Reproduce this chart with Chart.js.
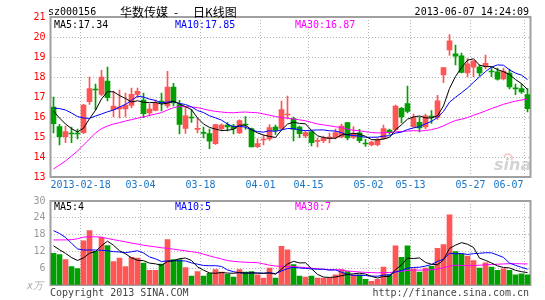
<!DOCTYPE html>
<html>
<head>
<meta charset="utf-8">
<script src="https://cdn.jsdelivr.net/npm/chart.js@4.4.0/dist/chart.umd.min.js"></script>
<style>
body{margin:0;background:#fff;}
#wrap{position:relative;width:545px;height:300px;}
canvas{position:absolute;left:0;}
</style>
</head>
<body>
<div id="wrap">
<canvas id="kline" width="545" height="190" style="top:0"></canvas>
<canvas id="vol" width="545" height="110" style="top:190px"></canvas>
</div>
<script>
// trading days shown
var dates = [
  '2013-02-04','2013-02-05','2013-02-06','2013-02-07','2013-02-08',
  '2013-02-18','2013-02-19','2013-02-20','2013-02-21','2013-02-22',
  '2013-02-25','2013-02-26','2013-02-27','2013-02-28','2013-03-01',
  '2013-03-04','2013-03-05','2013-03-06','2013-03-07','2013-03-08',
  '2013-03-11','2013-03-12','2013-03-13','2013-03-14','2013-03-15',
  '2013-03-18','2013-03-19','2013-03-20','2013-03-21','2013-03-22',
  '2013-03-25','2013-03-26','2013-03-27','2013-03-28','2013-03-29',
  '2013-04-01','2013-04-02','2013-04-03','2013-04-08','2013-04-09',
  '2013-04-10','2013-04-11','2013-04-12','2013-04-15','2013-04-16',
  '2013-04-17','2013-04-18','2013-04-19','2013-04-22','2013-04-23',
  '2013-04-24','2013-04-25','2013-04-26','2013-05-02','2013-05-03',
  '2013-05-06','2013-05-07','2013-05-08','2013-05-09','2013-05-10',
  '2013-05-13','2013-05-14','2013-05-15','2013-05-16','2013-05-17',
  '2013-05-20','2013-05-21','2013-05-22','2013-05-23','2013-05-24',
  '2013-05-27','2013-05-28','2013-05-29','2013-05-30','2013-05-31',
  '2013-06-03','2013-06-04','2013-06-05','2013-06-06','2013-06-07'
];

var opens = [16.5,15.52,15.02,15.18,15.18,15.22,16.77,17.4,17.13,17.8,
  16.37,16.4,16.4,16.58,17.13,16.85,16.2,16.33,16.8,16.55,
  17.5,16.62,15.43,16.0,15.38,15.22,15.17,14.67,15.42,15.6,
  15.55,15.2,15.65,15.42,14.52,14.85,14.9,15.5,15.43,16.1,
  15.92,15.5,15.05,15.26,14.78,14.82,14.92,14.98,15.0,15.72,
  14.98,15.21,14.68,14.6,14.62,14.93,15.35,15.37,16.43,16.67,
  15.52,15.73,15.5,16.04,15.98,18.1,19.35,19.16,19.06,18.21,
  18.49,18.5,18.54,18.27,18.26,17.9,18.19,17.43,17.42,17.12];
var highs = [17.0,15.63,15.55,15.5,15.4,16.63,18.0,17.65,18.33,18.5,
  17.3,17.35,17.2,17.45,17.45,17.2,16.65,16.85,17.2,18.28,
  17.68,16.83,16.5,16.37,15.95,15.5,15.4,15.63,15.66,15.72,
  15.63,15.86,16.02,15.45,14.91,15.1,15.62,15.6,16.8,17.04,
  16.0,15.55,15.3,15.3,14.95,15.05,15.2,15.4,15.65,15.73,
  15.52,15.38,14.88,14.8,14.95,15.6,15.4,16.6,16.48,17.54,
  16.15,16.0,16.15,16.32,17.08,18.47,20.12,19.6,19.2,18.92,
  18.81,18.6,19.1,18.48,18.45,18.45,18.4,17.65,17.65,17.42];
var lows = [15.2,14.6,14.72,14.72,14.9,15.17,16.63,16.35,17.05,16.8,
  16.0,15.95,16.0,16.45,16.97,15.97,16.05,16.3,16.3,16.45,
  16.55,15.15,15.18,15.73,15.2,14.95,14.42,14.63,15.3,15.3,
  15.15,15.17,15.38,14.5,14.47,14.6,14.83,15.13,15.38,15.9,
  14.8,14.97,14.97,14.55,14.5,14.72,14.7,14.9,14.95,14.85,
  14.92,14.72,14.53,14.55,14.55,14.88,15.13,15.3,15.7,16.2,
  15.47,15.25,15.4,15.68,15.88,17.72,19.08,18.6,18.2,18.0,
  18.02,18.05,18.4,18.02,17.84,17.86,17.4,17.12,17.18,16.25];
var closes = [15.67,15.02,15.27,15.15,15.15,16.6,17.42,17.35,18.0,16.97,
  16.55,16.5,16.6,17.13,17.28,16.17,16.4,16.68,16.7,17.5,
  16.7,15.63,16.06,15.95,15.43,15.18,14.79,15.62,15.6,15.5,
  15.42,15.82,15.6,14.51,14.67,14.9,15.47,15.33,16.37,16.15,
  15.38,15.17,15.22,14.72,14.82,14.93,15.0,15.22,15.55,14.96,
  15.18,14.82,14.65,14.75,14.87,15.42,15.22,16.55,16.0,16.28,
  15.97,15.46,16.06,15.99,16.81,18.47,19.81,19.04,18.23,18.66,
  18.81,18.21,18.68,18.25,17.89,18.3,17.5,17.41,17.25,16.42];
// volume, 万手
var volumes = [11.3,10.9,9.1,6.6,5.9,15.8,19.4,12.0,17.0,14.1,
  8.4,9.6,6.6,9.9,9.6,7.8,5.2,5.2,7.5,16.2,
  9.1,9.1,6.2,3.2,4.8,3.2,4.2,5.5,4.6,3.8,
  2.8,5.5,4.6,4.8,3.6,2.5,6.0,2.5,13.8,12.6,
  7.3,3.2,2.8,3.2,2.5,2.5,2.5,3.6,5.5,4.8,
  3.6,3.6,2.0,1.3,2.0,6.4,3.6,14.0,9.9,14.0,
  5.8,4.6,6.0,6.7,13.1,14.4,25.1,11.9,11.1,10.3,
  8.7,6.0,7.9,6.4,5.2,5.8,5.2,3.6,4.0,3.6];

// MA values for the first days (window reaches before the chart)
var ma5Head = [16.3,15.95,15.65,15.42];
var ma10Head = [16.45,16.42,16.35,16.2,16.02,15.95,15.93,16.05,16.15];
var ma30Head = [13.4,13.6,13.8,14.05,14.3,14.6,14.9,15.2,15.42,15.55,
  15.65,15.72,15.8,15.87,15.94,16.0,16.08,16.15,16.22,16.35,
  16.47,16.52,16.52,16.5,16.47,16.4,16.33,16.28,16.25];
var vma5Head = [14.0,12.6,11.3,9.8];
var vma10Head = [19.4,18.4,17.0,14.9,12.9,12.5,12.5,12.5,12.4];
var vma30Head = [16.1,16.1,16.1,16.2,16.5,17.1,17.2,17.2,17.1,16.6,
  16.2,15.8,15.4,15.0,14.6,14.2,13.9,13.6,13.3,13.1,
  12.8,12.5,12.2,11.9,11.6,11.0,10.4,9.8,9.3];

var tickDates = ['2013-02-18','2013-03-04','2013-03-18','2013-04-01','2013-04-15','2013-05-02','2013-05-13','2013-05-27','2013-06-07'];
var tickTexts = ['2013-02-18','03-04','03-18','04-01','04-15','05-02','05-13','05-27','06-07'];
var mainLegend = ['MA5:17.34','MA10:17.85','MA30:16.87'];
var volLegend = ['MA5:4','MA10:5','MA30:7'];

var RED = '#ff5555', GREEN = '#00a000', GRID = '#b4b4b4', MONO = '"DejaVu Sans Mono", monospace';

function movingAvg(vals, n, head) {
  return vals.map(function(v, i) {
    if (i < n - 1) return head[i];
    var s = 0;
    for (var k = i - n + 1; k <= i; k++) s += vals[k];
    return s / n;
  });
}

var candleColors = closes.map(function(c, i){ return c >= opens[i] ? RED : GREEN; });
var bodies = opens.map(function(o, i){ return [o, closes[i]]; });
var wicks = lows.map(function(l, i){ return [l, highs[i]]; });
var gridIdx = tickDates.map(function(d){ return dates.indexOf(d); });

function lineSet(data, color) {
  return {type:'line', data:data, borderColor:color, borderWidth:1, pointRadius:0, tension:0, fill:false, order:0};
}

function xScale() {
  return {
    type:'category', offset:true,
    grid:{offset:true, drawTicks:false, color:function(ctx){ return gridIdx.indexOf(ctx.index) >= 0 ? GRID : 'rgba(0,0,0,0)'; }},
    border:{display:false, dash:[1,2]},
    ticks:{display:false, autoSkip:false},
    afterFit:function(s){ s.height = 0; }
  };
}

function drawBox(chart) {
  var a = chart.chartArea, ctx = chart.ctx;
  ctx.save();
  ctx.strokeStyle = '#a0a0a0';
  ctx.lineWidth = 2;
  ctx.strokeRect(a.left, a.top, a.right - a.left, a.bottom - a.top);
  ctx.restore();
}

var klineDeco = {
  id:'klineDeco',
  beforeDatasetsDraw:function(chart){
    drawBox(chart);
    // faint sina watermark behind the marks
    var ctx = chart.ctx;
    ctx.save();
    ctx.strokeStyle = 'rgba(240,160,160,0.5)';
    ctx.lineWidth = 2;
    ctx.beginPath(); ctx.arc(508, 158, 4, Math.PI * 1.1, Math.PI * 2.2); ctx.stroke();
    ctx.font = 'italic bold 16px "DejaVu Sans"';
    ctx.fillStyle = 'rgba(175,175,175,0.55)';
    ctx.textBaseline = 'middle';
    ctx.fillText('sina', 494, 166);
    ctx.restore();
  },
  afterDraw:function(chart){
    var ctx = chart.ctx, a = chart.chartArea, xs = chart.scales.x;
    var slot = (a.right - a.left) / dates.length;
    ctx.save();
    ctx.textBaseline = 'middle';
    ctx.font = '10px ' + MONO;
    ctx.fillStyle = '#000';
    ctx.textAlign = 'left';
    ctx.fillText('sz000156', 48, 12);
    ctx.textAlign = 'right';
    ctx.fillText('2013-06-07 14:24:09', 529, 12);
    ctx.textAlign = 'left';
    ctx.font = '12px "Noto Sans CJK SC"';
    ctx.fillText('华数传媒', 120, 12);
    ctx.fillText('-', 174, 12);
    ctx.fillText('日K线图', 193, 12);
    // legend
    ctx.font = '10px ' + MONO;
    var cols = ['#000', '#0000ff', '#ff00ff'], xs0 = [54, 175, 295];
    mainLegend.forEach(function(t, k){ ctx.fillStyle = cols[k]; ctx.fillText(t, xs0[k], 25); });
    // date labels on the grid lines
    ctx.fillStyle = '#1a75c6';
    ctx.textAlign = 'center';
    tickTexts.forEach(function(t, k){
      var x = xs.getPixelForValue(gridIdx[k]) - slot / 2;
      var w = ctx.measureText(t).width;
      x = Math.max(a.left + w / 2, Math.min(x, a.right - 7 - w / 2));
      ctx.fillText(t, x, 185);
    });
    ctx.restore();
  }
};

var volDeco = {
  id:'volDeco',
  beforeDatasetsDraw:function(chart){ drawBox(chart); },
  afterDraw:function(chart){
    var ctx = chart.ctx;
    ctx.save();
    ctx.textBaseline = 'middle';
    ctx.font = '10px ' + MONO;
    var cols = ['#000', '#0000ff', '#ff00ff'], xs0 = [54, 175, 295];
    volLegend.forEach(function(t, k){ ctx.fillStyle = cols[k]; ctx.fillText(t, xs0[k], 17); });
    ctx.fillStyle = '#aaa';
    ctx.font = 'italic 10px ' + MONO;
    ctx.fillText('x万', 27, 96);
    ctx.font = '10px ' + MONO;
    ctx.fillStyle = '#444';
    ctx.textAlign = 'left';
    ctx.fillText('Copyright 2013 SINA.COM', 50, 103);
    ctx.textAlign = 'right';
    ctx.fillText('http://finance.sina.com.cn', 529, 103);
    ctx.restore();
  }
};

new Chart(document.getElementById('kline'), {
  type:'bar',
  data:{
    labels:dates,
    datasets:[
      lineSet(movingAvg(closes, 5, ma5Head), '#000000'),
      lineSet(movingAvg(closes, 10, ma10Head), '#0000ff'),
      lineSet(movingAvg(closes, 30, ma30Head), '#ff00ff'),
      {type:'bar', data:bodies, backgroundColor:candleColors, barThickness:5, grouped:false, minBarLength:1, order:1},
      {type:'bar', data:wicks, backgroundColor:candleColors, barThickness:1, grouped:false, order:2}
    ]
  },
  options:{
    responsive:false, animation:false, devicePixelRatio:1,
    layout:{padding:{left:0, right:14.5, top:17, bottom:13}},
    plugins:{legend:{display:false}, tooltip:{enabled:false}},
    scales:{
      x:xScale(),
      y:{
        min:13, max:21,
        ticks:{stepSize:1, color:'#ff0000', padding:5, font:{family:MONO, size:10}},
        grid:{drawTicks:false, color:function(ctx){ return (ctx.tick && (ctx.tick.value === 13 || ctx.tick.value === 21)) ? 'rgba(0,0,0,0)' : GRID; }},
        border:{display:false, dash:[1,2]},
        afterFit:function(s){ s.width = 50.5; }
      }
    }
  },
  plugins:[klineDeco]
});

new Chart(document.getElementById('vol'), {
  type:'bar',
  data:{
    labels:dates,
    datasets:[
      lineSet(movingAvg(volumes, 5, vma5Head), '#000000'),
      lineSet(movingAvg(volumes, 10, vma10Head), '#0000ff'),
      lineSet(movingAvg(volumes, 30, vma30Head), '#ff00ff'),
      {type:'bar', data:volumes, backgroundColor:candleColors, barThickness:5, grouped:false, order:1}
    ]
  },
  options:{
    responsive:false, animation:false, devicePixelRatio:1,
    layout:{padding:{left:0, right:14.5, top:10, bottom:15}},
    plugins:{legend:{display:false}, tooltip:{enabled:false}},
    scales:{
      x:xScale(),
      y:{
        min:0, max:30,
        ticks:{stepSize:6, color:'#999999', padding:5, font:{family:MONO, size:10},
          callback:function(v){ return v === 0 ? '' : v; }},
        grid:{drawTicks:false, color:function(ctx){ return (ctx.tick && (ctx.tick.value === 0 || ctx.tick.value === 30)) ? 'rgba(0,0,0,0)' : GRID; }},
        border:{display:false, dash:[1,2]},
        afterFit:function(s){ s.width = 50.5; }
      }
    }
  },
  plugins:[volDeco]
});
</script>
</body>
</html>
